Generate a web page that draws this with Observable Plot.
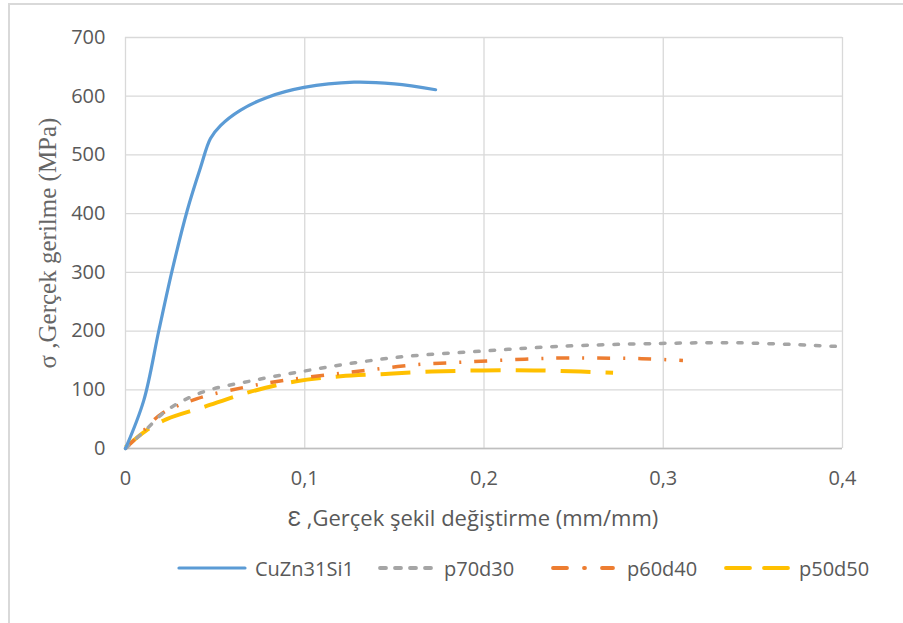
<!DOCTYPE html>
<html><head><meta charset="utf-8">
<script src="https://cdn.jsdelivr.net/npm/d3@7"></script>
<script src="https://cdn.jsdelivr.net/npm/@observablehq/plot@0.6"></script>
<style>
body{margin:0;background:#fff;}
#wrap{position:relative;width:903px;height:623px;overflow:hidden;background:#fff;}
#border{position:absolute;left:8px;top:3px;width:1000px;height:1000px;border:2px solid #d9d9d9;box-sizing:border-box;}
#chart{position:absolute;left:0;top:0;}
#legend{position:absolute;top:555px;left:0;width:903px;height:26px;font-family:"Open Sans",sans-serif;font-size:20px;color:#595959;}
.li{position:absolute;top:0;display:flex;align-items:center;height:26px;}
</style></head>
<body><div id="wrap"><div id="border"></div><div id="chart"></div><div id="legend"></div></div>
<script>
const seriesNames = ["CuZn31Si1","p70d30","p60d40","p50d50"];
const seriesColors = ["#5b9bd5","#a5a5a5","#ed7d31","#ffc000"];
const seriesDash = [null,"4.5,11","13,13,2,13","30,15"];
const legendDash = [null,"6,9","14,17,1,17","24,14"];
const xTicks = [0,0.1,0.2,0.3,0.4];
const yTicks = [0,100,200,300,400,500,600,700];
const xLabel = "Ɛ ,Gerçek şekil değiştirme (mm/mm)";
const yLabel = "σ ,Gerçek gerilme (MPa)";

const cuznX = [0,0.0102,0.0186,0.026,0.0344,0.0419,0.0474,0.053,0.064,0.079,0.0996,0.1275,0.150,0.173];
const cuznY = [0,82,201,303,405,479,528,550,576,598,615,624,621,611];
const p70X = [0,0.0117,0.023,0.043,0.0715,0.100,0.128,0.157,0.1995,0.242,0.299,0.342,0.396];
const p70Y = [0,33,65,96,116,132,146,157,166,174,179,180,174];
const p60X = [0,0.010,0.020,0.040,0.066,0.0885,0.114,0.137,0.163,0.188,0.214,0.240,0.263,0.288,0.311];
const p60Y = [0,30,59,85,104,116,126,134,143,147,151,154,154,153,150];
const p50X = [0,0.0117,0.023,0.043,0.069,0.0945,0.120,0.145,0.171,0.1995,0.228,0.254,0.272];
const p50Y = [2,31,50,70,96,114,123,127,131,133,133,131,129];

const allX = [cuznX,p70X,p60X,p50X];
const allY = [cuznY,p70Y,p60Y,p50Y];
const data = seriesNames.map((n,i)=>allX[i].map((x,j)=>({series:n,x,y:allY[i][j]})));

const fmt = d => String(d).replace(".", ",");
const tickFont = "Open Sans, sans-serif";

const lineMarks = data.map((d,i)=>Plot.line(d,{x:"x",y:"y",stroke:seriesColors[i],strokeWidth:i===0?3.2:(i===3?4:3.5),
  strokeDasharray:seriesDash[i]||undefined,strokeLinecap:(i<=1)?"round":"butt",curve:"catmull-rom"}));
const ordered = [lineMarks[3],lineMarks[2],lineMarks[1],lineMarks[0]];

const plot = Plot.plot({
  width:903,height:540,
  marginLeft:125,marginRight:61,marginTop:37,marginBottom:92,
  x:{domain:[0,0.4]},
  y:{domain:[0,700]},
  style:{fontFamily:tickFont,fontSize:"20px",color:"#595959",background:"transparent"},
  marks:[
    Plot.gridX(xTicks,{stroke:"#d9d9d9",strokeOpacity:1,strokeWidth:1.3}),
    Plot.gridY(yTicks,{stroke:"#d9d9d9",strokeOpacity:1,strokeWidth:1.3}),
    Plot.ruleY([0],{stroke:"#bfbfbf",strokeWidth:1.5}),
    Plot.axisX(xTicks,{tickSize:0,tickPadding:22,tickFormat:fmt,fontSize:20,fill:"#595959",label:null}),
    Plot.axisY(yTicks,{tickSize:0,tickPadding:20,fontSize:20,fill:"#595959",label:null}),
    Plot.text([xLabel],{frameAnchor:"bottom",dx:-11,dy:77,fontSize:22,fill:"#595959",fontFamily:tickFont}),
    Plot.text([yLabel],{frameAnchor:"left",textAnchor:"middle",dx:-78,rotate:-90,fontSize:25,fill:"#666666",fontFamily:"Liberation Serif, serif"}),
    ...ordered
  ]
});
document.getElementById("chart").appendChild(plot);

const legendLeft = [177,378,551,724];
const legendLine = [70,64,64,74];
const legendGap = [8,2,12,1];
const lg = document.getElementById("legend");
seriesNames.forEach((n,i)=>{
  const div=document.createElement("div");div.className="li";div.style.left=legendLeft[i]+"px";
  const w=legendLine[i];
  const s=d3.create("svg").attr("width",w).attr("height",10).style("margin-right",legendGap[i]+"px");
  s.append("line").attr("x1",2).attr("x2",w-2).attr("y1",5).attr("y2",5).attr("stroke",seriesColors[i]).attr("stroke-width",i===0?3.2:3.8)
   .attr("stroke-linecap","round").attr("stroke-dasharray",legendDash[i]);
  div.appendChild(s.node());
  const t=document.createElement("span");t.textContent=n;div.appendChild(t);
  lg.appendChild(div);
});
</script></body></html>
